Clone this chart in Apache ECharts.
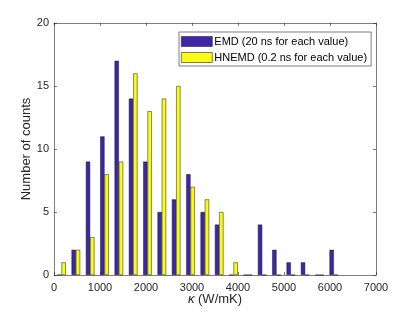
<!DOCTYPE html>
<html><head><meta charset="utf-8">
<script src="https://cdn.jsdelivr.net/npm/echarts@6/dist/echarts.min.js"></script>
<style>html,body{margin:0;padding:0;background:#fff}#c{width:415px;height:312px}</style>
</head><body><div id="c"></div>
<script>
// Bin centers of the histogram (W/mK)
const binCenters = [163, 475, 786, 1098, 1410, 1721, 2033, 2344, 2656, 2968, 3279, 3591, 3902, 4214, 4526, 4837, 5149, 5460, 5772, 6083];
// Counts per bin
const emdCounts   = [0, 2, 9, 11, 17, 14, 9, 5, 6, 8, 5, 4, 0, 0, 4, 2, 1, 1, 0, 2];
const hnemdCounts = [1, 2, 3, 8, 9, 16, 13, 14, 15, 7, 6, 5, 1, 0, 0, 0, 0, 0, 0, 0];
const xTicks = [0, 1000, 2000, 3000, 4000, 5000, 6000, 7000];
const yTicks = [0, 5, 10, 15, 20];
const seriesNames = ['EMD (20 ns for each value)', 'HNEMD (0.2 ns for each value)'];

const axisCol = '#262626';
const font = 'Liberation Sans, Arial, sans-serif';
const pair = (xs, ys) => xs.map((x, i) => [x, ys[i]]);

const chart = echarts.init(document.getElementById('c'), null, {renderer: 'canvas'});
const lineSt = {color: axisCol, width: 0.6};
const xBase = {
  type: 'value', min: xTicks[0], max: xTicks[xTicks.length - 1], interval: xTicks[1] - xTicks[0],
  axisLine: {show: true, onZero: false, lineStyle: lineSt},
  axisTick: {show: true, inside: true, length: 3, lineStyle: lineSt},
  splitLine: {show: false}
};
const yBase = {
  type: 'value', min: yTicks[0], max: yTicks[yTicks.length - 1], interval: yTicks[1] - yTicks[0],
  axisLine: {show: true, onZero: false, lineStyle: lineSt},
  axisTick: {show: true, inside: true, length: 3, lineStyle: lineSt},
  splitLine: {show: false}
};
chart.setOption({
  animation: false,
  backgroundColor: '#fff',
  grid: {left: 54, right: 39, top: 23, bottom: 37, containLabel: false, outerBoundsMode: 'none'},
  legend: {
    orient: 'vertical', left: 179, top: 32,
    data: seriesNames,
    icon: 'rect',
    itemWidth: 31, itemHeight: 10, itemGap: 5,
    padding: [4, 4, 3, 2],
    borderColor: '#262626', borderWidth: 0.6, backgroundColor: '#fff',
    textStyle: {fontFamily: font, fontSize: 11, color: '#000', padding: [0, 0, 0, -3]},
    itemStyle: {borderColor: '#262626', borderWidth: 0.6}
  },
  xAxis: [
    Object.assign({}, xBase, {
      position: 'bottom',
      name: '{k|κ} (W/mK)', nameLocation: 'middle', nameGap: 18, nameMoveOverlap: false,
      nameTextStyle: {fontFamily: font, fontSize: 13, color: axisCol,
        rich: {k: {fontFamily: font, fontSize: 13, fontStyle: 'italic', color: axisCol}}},
      axisLabel: {fontFamily: font, fontSize: 11, color: axisCol, margin: 7, formatter: v => String(v)}
    }),
    Object.assign({}, xBase, {position: 'top', axisLabel: {show: false}})
  ],
  yAxis: [
    Object.assign({}, yBase, {
      position: 'left',
      name: 'Number of counts', nameLocation: 'middle', nameGap: 21, nameMoveOverlap: false,
      nameTextStyle: {fontFamily: font, fontSize: 13, color: axisCol},
      axisLabel: {fontFamily: font, fontSize: 11, color: axisCol, margin: 5, formatter: v => String(v)}
    }),
    Object.assign({}, yBase, {position: 'right', axisLabel: {show: false}})
  ],
  series: [
    {
      name: seriesNames[0], type: 'bar', xAxisIndex: 0, yAxisIndex: 0,
      data: pair(binCenters, emdCounts),
      barWidth: '30%', barGap: '0%',
      itemStyle: {color: '#3E26A8', borderColor: '#1a1a1a', borderWidth: 0.5}
    },
    {
      name: seriesNames[1], type: 'bar', xAxisIndex: 0, yAxisIndex: 0,
      data: pair(binCenters, hnemdCounts),
      barWidth: '30%', barGap: '0%',
      itemStyle: {color: '#F9FB15', borderColor: '#1a1a1a', borderWidth: 0.5}
    }
  ]
});
</script></body></html>
